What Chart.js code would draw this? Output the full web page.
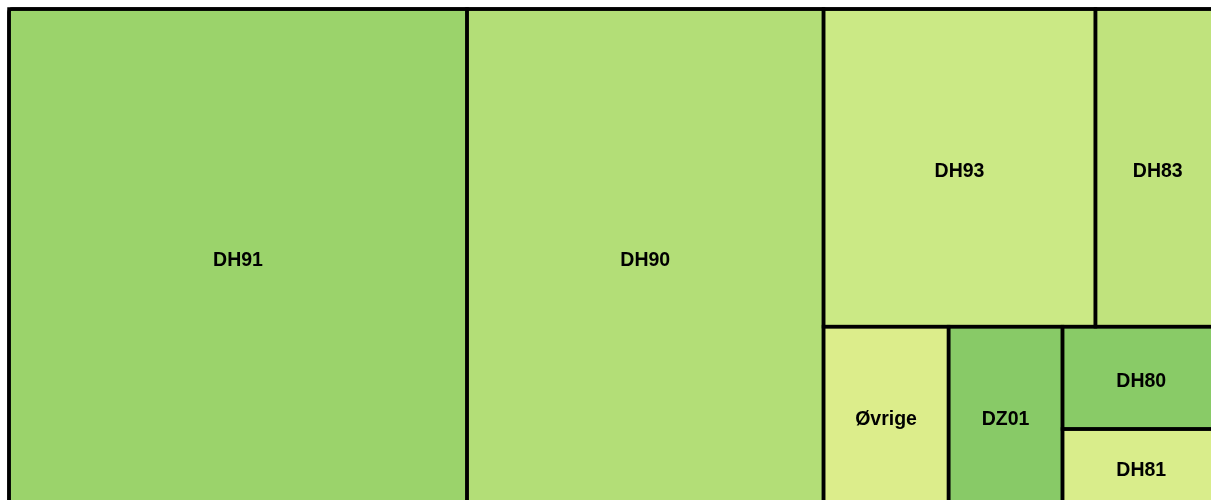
<!DOCTYPE html>
<html>
<head>
<meta charset="utf-8">
<script src="https://cdn.jsdelivr.net/npm/chart.js@4"></script>
<style>
  html, body { margin: 0; padding: 0; background: #ffffff; overflow: hidden; }
  #wrap { position: absolute; left: 0; top: 0; width: 1230px; height: 512px; }
</style>
</head>
<body>
<div id="wrap"><canvas id="c" width="1230" height="512"></canvas></div>
<script>
// ---- data ----
const categories = ['DH91', 'DH90', 'DH93', 'DH83', 'Øvrige', 'DZ01', 'DH80', 'DH81'];
const shares = [37.82, 29.44, 14.41, 6.60, 3.70, 3.37, 2.69, 1.97];
const colors = ['#9bd36b', '#b3de77', '#cbe985', '#c0e37d', '#dced8b', '#88ca67', '#89cb67', '#d9ed8b'];

// squarified layout (rows laid along the shorter side; a row grows while its first cell gets squarer)
function squarify(values, W, H) {
  const total = values.reduce((a, b) => a + b, 0);
  const areas = values.map(v => v * W * H / total);
  const rects = new Array(values.length);
  let x = 0, y = 0, w = W, h = H, i = 0;
  const n = areas.length;
  while (i < n) {
    const side = Math.min(w, h);
    const ratio = (s) => { const t = s / side; const l = areas[i] / t; return Math.max(t / l, l / t); };
    let s = areas[i], best = ratio(s), j = i + 1;
    while (j < n) {
      const r = ratio(s + areas[j]);
      if (r > best) break;
      best = r; s += areas[j]; j++;
    }
    const t = s / side;
    if (w >= h) {
      let yy = y;
      for (let k = i; k < j; k++) { const l = areas[k] / t; rects[k] = { x0: x, x1: x + t, y0: yy, y1: yy + l }; yy += l; }
      x += t; w -= t;
    } else {
      let xx = x;
      for (let k = i; k < j; k++) { const l = areas[k] / t; rects[k] = { x0: xx, x1: xx + l, y0: y, y1: y + t }; xx += l; }
      y += t; h -= t;
    }
    i = j;
  }
  return rects.map(r => ({ x0: r.x0 / W, x1: r.x1 / W, y0: r.y0 / H, y1: r.y1 / H }));
}

const treemapPlugin = {
  id: 'treemapPlugin',
  afterDatasetsDraw(chart) {
    const { ctx, chartArea: ca, scales } = chart;
    const xs = scales.x, ys = scales.y;
    const rects = squarify(shares, ca.right - ca.left, ca.bottom - ca.top);
    ctx.save();
    rects.forEach((r, k) => {
      const px0 = xs.getPixelForValue(r.x0), px1 = xs.getPixelForValue(r.x1);
      const py0 = ys.getPixelForValue(r.y0), py1 = ys.getPixelForValue(r.y1);
      ctx.fillStyle = colors[k];
      ctx.fillRect(px0, py0, px1 - px0, py1 - py0);
    });
    ctx.strokeStyle = '#000000';
    ctx.lineWidth = 3.5;
    rects.forEach((r) => {
      const px0 = xs.getPixelForValue(r.x0), px1 = xs.getPixelForValue(r.x1);
      const py0 = ys.getPixelForValue(r.y0), py1 = ys.getPixelForValue(r.y1);
      ctx.strokeRect(px0, py0, px1 - px0, py1 - py0);
    });
    ctx.beginPath();
    ctx.roundRect(xs.getPixelForValue(0), ys.getPixelForValue(0),
      xs.getPixelForValue(1) - xs.getPixelForValue(0), ys.getPixelForValue(1) - ys.getPixelForValue(0), 3);
    ctx.stroke();
    ctx.fillStyle = '#000000';
    ctx.font = 'bold 19.5px "Liberation Sans", Arial, sans-serif';
    ctx.textAlign = 'center';
    ctx.textBaseline = 'alphabetic';
    rects.forEach((r, k) => {
      const cx = (xs.getPixelForValue(r.x0) + xs.getPixelForValue(r.x1)) / 2;
      const cy = (ys.getPixelForValue(r.y0) + ys.getPixelForValue(r.y1)) / 2;
      ctx.fillText(categories[k], cx, cy + 9.3);
    });
    ctx.restore();
  }
};

new Chart(document.getElementById('c'), {
  type: 'scatter',
  data: { datasets: [{ data: [] }] },
  options: {
    responsive: false,
    devicePixelRatio: 1,
    animation: false,
    layout: { padding: { left: 9, top: 9, right: 10, bottom: 8 } },
    plugins: { legend: { display: false }, tooltip: { enabled: false } },
    scales: {
      x: { type: 'linear', min: 0, max: 1, display: false },
      y: { type: 'linear', min: 0, max: 1, reverse: true, display: false }
    }
  },
  plugins: [treemapPlugin]
});
</script>
</body>
</html>
